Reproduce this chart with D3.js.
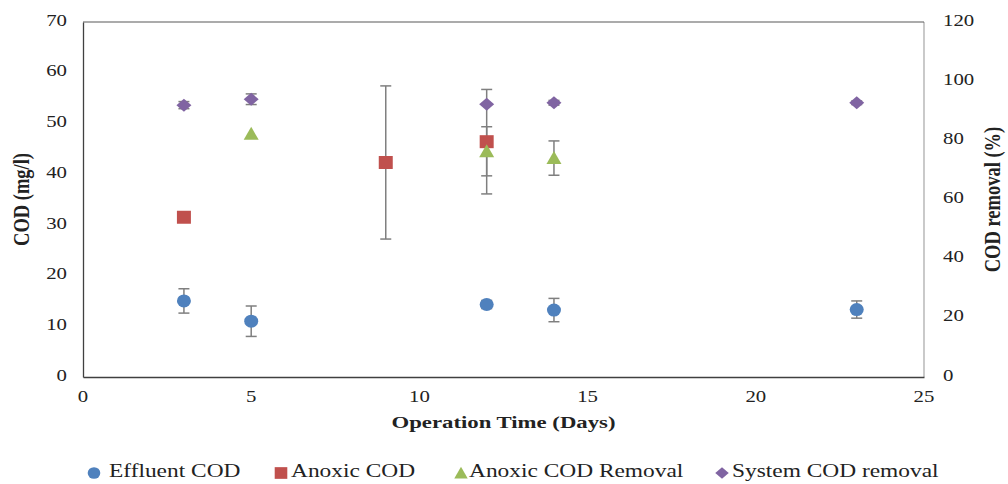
<!DOCTYPE html>
<html>
<head>
<meta charset="utf-8">
<script src="https://cdn.jsdelivr.net/npm/d3@7"></script>
<style>
  body { margin: 0; background: #fff; }
  svg text { font-family: "Liberation Serif", "Times New Roman", serif; fill: #222; }
</style>
</head>
<body>
<svg id="chart" width="1008" height="484"></svg>
<script>
// Operation time (days) and measured values per series
const effluentDays = [3, 5, 12, 14, 23];
const effluentCOD = [15.0, 11.0, 14.3, 13.2, 13.3];
const effluentErr = [2.4, 3.0, 0.8, 2.3, 1.7];

const anoxicDays = [3, 9, 12];
const anoxicCOD = [31.5, 42.3, 46.4];
const anoxicErr = [0, 15.1, 10.3];

const anoxicRemovalDays = [5, 12, 14];
const anoxicRemoval = [82.2, 76.3, 74.0];
const anoxicRemovalErr = [0, 8.3, 5.8];

const systemDays = [3, 5, 12, 14, 23];
const systemRemoval = [91.9, 93.9, 92.2, 92.7, 92.7];
const systemRemovalErr = [1.2, 1.8, 0, 0.8, 0.6];

const xTicks = [0, 5, 10, 15, 20, 25];
const yLeftTicks = [0, 10, 20, 30, 40, 50, 60, 70];
const yRightTicks = [0, 20, 40, 60, 80, 100, 120];

const legendLabels = ["Effluent COD", "Anoxic COD", "Anoxic COD Removal", "System COD removal"];

const svg = d3.select("#chart");
const m = { left: 83, right: 924, top: 22, bottom: 377 };
const SX = 1.3; // horizontal widening of the lettering

const x = d3.scaleLinear().domain([0, 25]).range([m.left, m.right]);
const yL = d3.scaleLinear().domain([0, 70]).range([m.bottom, m.top]);
const yR = d3.scaleLinear().domain([0, 120]).range([m.bottom, m.top]);

// Text helper: places a label and widens its glyphs horizontally
function label(px, py, str, opts = {}) {
  const g = svg.append("g")
    .attr("transform", `translate(${px},${py}) ${opts.rotate ? "rotate(-90) scale(1," + SX + ")" : "scale(" + SX + ",1)"}`);
  return g.append("text")
    .attr("text-anchor", opts.anchor || "middle")
    .attr("dominant-baseline", "middle")
    .attr("font-size", opts.size || 16)
    .attr("font-weight", opts.bold ? "bold" : "normal")
    .text(str);
}

// Plot frame
svg.append("line").attr("x1", m.right).attr("x2", m.right).attr("y1", m.top).attr("y2", m.bottom)
  .attr("stroke", "#a6a6a6").attr("stroke-width", 1.2);
svg.append("line").attr("x1", m.left).attr("x2", m.right).attr("y1", m.top).attr("y2", m.top)
  .attr("stroke", "#595959").attr("stroke-width", 1.2);

// Axis lines
svg.append("g").attr("transform", `translate(0,${m.bottom})`)
  .call(d3.axisBottom(x).tickValues(xTicks).tickSize(0).tickFormat(""))
  .call(g => g.select(".domain").attr("stroke", "#404040").attr("stroke-width", 1.3));
svg.append("g").attr("transform", `translate(${m.left},0)`)
  .call(d3.axisLeft(yL).tickValues(yLeftTicks).tickSize(0).tickFormat(""))
  .call(g => g.select(".domain").attr("stroke", "#404040").attr("stroke-width", 1.3));

// Tick labels
xTicks.forEach(t => label(x(t), 398, t));
yLeftTicks.forEach(t => label(67, yL(t), t, { anchor: "end" }));
yRightTicks.forEach(t => label(943, yR(t), t, { anchor: "start" }));

// Axis titles
label(23, (m.top + m.bottom) / 2, "COD (mg/l)", { rotate: true, bold: true, size: 18.5 });
label(994, (m.top + m.bottom) / 2, "COD removal (%)", { rotate: true, bold: true, size: 18.5 });
label((m.left + m.right) / 2, 424, "Operation Time (Days)", { bold: true, size: 17.5 });

const series = [
  { name: legendLabels[0], days: effluentDays, vals: effluentCOD, errs: effluentErr, y: yL, color: "#4f81bd", shape: "circle" },
  { name: legendLabels[1], days: anoxicDays, vals: anoxicCOD, errs: anoxicErr, y: yL, color: "#c0504d", shape: "square" },
  { name: legendLabels[2], days: anoxicRemovalDays, vals: anoxicRemoval, errs: anoxicRemovalErr, y: yR, color: "#9bbb59", shape: "triangle" },
  { name: legendLabels[3], days: systemDays, vals: systemRemoval, errs: systemRemovalErr, y: yR, color: "#8064a2", shape: "diamond" }
];

function drawMarker(g, shape, color) {
  if (shape === "circle") {
    g.append("ellipse").attr("rx", 7).attr("ry", 6.5).attr("fill", color);
  } else if (shape === "square") {
    g.append("path").attr("d", "M-7,-6.5H7V6.5H-7Z").attr("fill", color);
  } else if (shape === "triangle") {
    g.append("path").attr("d", "M0,-7L7.5,6L-7.5,6Z").attr("fill", color);
  } else {
    g.append("path").attr("d", "M0,-6.5L7.5,0L0,6.5L-7.5,0Z").attr("fill", color);
  }
}

// Error bars
const errG = svg.append("g").attr("stroke", "#7f7f7f").attr("stroke-width", 1.5);
series.forEach(s => {
  s.days.forEach((d, i) => {
    const e = s.errs[i];
    if (!e) return;
    const cx = x(d), y1 = s.y(s.vals[i] + e), y2 = s.y(s.vals[i] - e);
    errG.append("line").attr("x1", cx).attr("x2", cx).attr("y1", y1).attr("y2", y2);
    errG.append("line").attr("x1", cx - 5.5).attr("x2", cx + 5.5).attr("y1", y1).attr("y2", y1);
    errG.append("line").attr("x1", cx - 5.5).attr("x2", cx + 5.5).attr("y1", y2).attr("y2", y2);
  });
});

// Markers
series.forEach(s => {
  s.days.forEach((d, i) => {
    const g = svg.append("g").attr("transform", `translate(${x(d)},${s.y(s.vals[i])})`);
    drawMarker(g, s.shape, s.color);
  });
});

// Legend
const legendX = [94, 281, 461, 722];
series.forEach((s, i) => {
  const mg = svg.append("g").attr("transform", `translate(${legendX[i]},473) scale(0.9)`);
  drawMarker(mg, s.shape, s.color);
  label(legendX[i] + (i === 0 ? 15 : i === 2 ? 8 : 10), 473, s.name, { anchor: "start", size: 18 });
});
</script>
</body>
</html>
